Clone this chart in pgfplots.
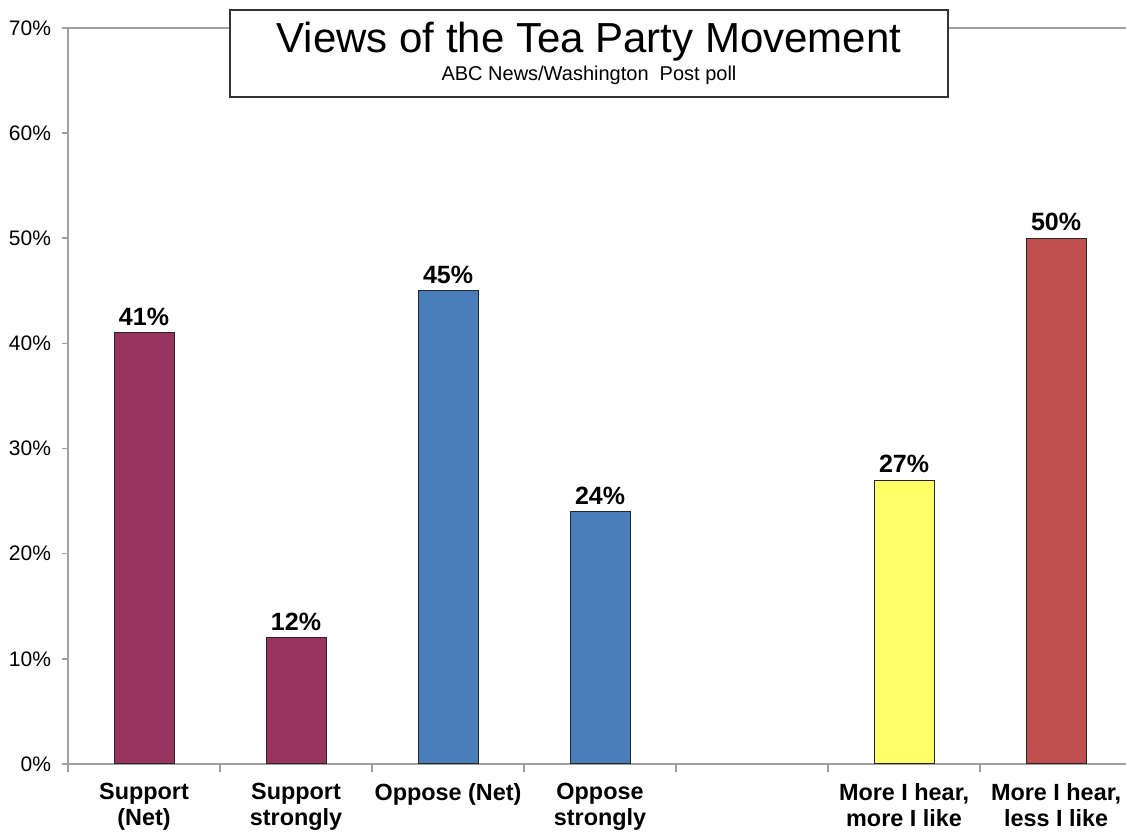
\documentclass[border=0pt]{standalone}
\usepackage{fontspec}
\setmainfont{Liberation Sans}
\usepackage{pgfplots}
\pgfplotsset{compat=1.18}
\definecolor{plum}{RGB}{153,51,96}
\definecolor{steel}{RGB}{74,126,187}
\definecolor{lemon}{RGB}{255,255,102}
\definecolor{brick}{RGB}{192,80,77}
\definecolor{axgray}{RGB}{160,160,160}
\begin{document}
\begin{tikzpicture}
\begin{axis}[name=ax, scale only axis, width=529pt, height=368pt,
  xmin=-0.5, xmax=6.46, ymin=0, ymax=70,
  axis x line*=bottom, axis y line*=left,
  axis line style={draw=axgray, line width=0.8pt},
  clip=false,
  /pgf/number format/assume math mode=true,
  ytick={0,10,...,70},
  yticklabel={\pgfmathprintnumber{\tick}\%},
  tick align=outside,
  major tick length=3pt,
  tick style={draw=axgray, line width=0.8pt},
  y tick label style={font=\fontsize{10.5}{12}\selectfont, xshift=-2pt},
  xtick={0,1,2,3,4,5,6},
  xticklabels={{Support\\(Net)},{Support\\strongly},{Oppose (Net)},{Oppose\\strongly},{},{More I hear,\\more I like},{More I hear,\\less I like}},
  major x tick style={draw=none},
  minor xtick={-0.5,0.5,1.5,2.5,3.5,4.5,5.5},
  minor tick length=4pt,
  minor x tick style={draw=axgray, line width=0.8pt},
  x tick label style={font=\bfseries\fontsize{11.7}{13}\selectfont, align=center, anchor=north, yshift=-3pt},
  ybar, bar width=30pt, bar shift=0pt,
  every axis plot/.append style={draw=black!85, line width=0.5pt},
  nodes near coords={\pgfmathprintnumber{\pgfplotspointmeta}\%},
  every node near coord/.append style={font=\bfseries\fontsize{12.5}{14}\selectfont, text=black},
]
\draw[axgray, line width=0.8pt] (axis cs:-0.5,70) -- (axis cs:6.46,70);
\addplot[fill=plum] coordinates {(0,41) (1,12)};
\addplot[fill=steel] coordinates {(2,45) (3,24)};
\addplot[fill=lemon] coordinates {(5,27)};
\addplot[fill=brick] coordinates {(6,50)};
\end{axis}
\draw[draw=black!80, line width=0.8pt, fill=white] ([shift={(81pt,9pt)}]ax.north west) rectangle ([shift={(440pt,-34.5pt)}]ax.north west);
\node[anchor=base, inner sep=0pt, font=\fontsize{21}{24}\selectfont] at ([shift={(260.5pt,-12.5pt)}]ax.north west) {Views of the Tea Party Movement};
\node[anchor=base, inner sep=0pt, font=\fontsize{10}{12}\selectfont] at ([shift={(260.5pt,-26.5pt)}]ax.north west) {ABC News/Washington\ \ Post poll};
\pgfresetboundingbox
\path ([shift={(-34pt,-34pt)}]ax.south west) rectangle ([shift={(0pt,14pt)}]ax.north east);
\end{tikzpicture}
\end{document}
